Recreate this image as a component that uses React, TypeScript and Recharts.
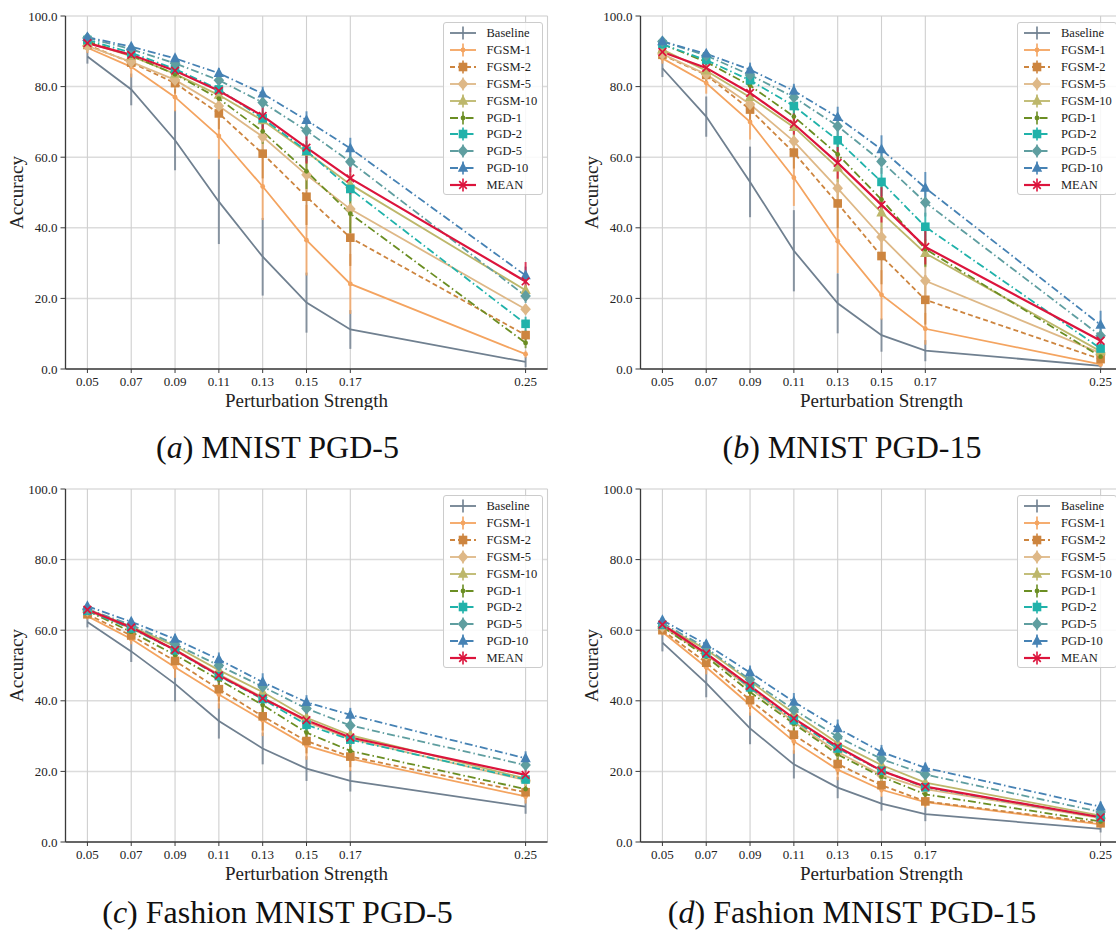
import React from 'react';
import {
  LineChart, Line, XAxis, YAxis, CartesianGrid, ErrorBar, Legend,
} from 'recharts';

/* ───────── Data ───────── */

const EPS = [0.05, 0.07, 0.09, 0.11, 0.13, 0.15, 0.17, 0.25];
const Y_TICKS = [0, 20, 40, 60, 80, 100];
const SERIES_NAMES = ['Baseline', 'FGSM-1', 'FGSM-2', 'FGSM-5', 'FGSM-10', 'PGD-1', 'PGD-2', 'PGD-5', 'PGD-10', 'MEAN'];

// (a) MNIST PGD-5
const MNIST_PGD5_ACC: Record<string, number[]> = {
  'Baseline': [88.5, 79.2, 64.8, 47.4, 31.8, 18.8, 11.2, 2.0],
  'FGSM-1': [91.0, 85.6, 77.0, 66.0, 51.7, 36.5, 24.1, 4.2],
  'FGSM-2': [91.8, 86.8, 81.0, 72.4, 61.0, 48.8, 37.2, 9.6],
  'FGSM-5': [91.5, 87.0, 81.9, 74.5, 65.8, 55.0, 45.3, 16.9],
  'FGSM-10': [92.5, 88.6, 83.6, 77.6, 70.4, 61.5, 52.3, 22.3],
  'PGD-1': [92.8, 88.8, 83.5, 76.6, 67.3, 56.0, 44.0, 7.4],
  'PGD-2': [93.2, 89.6, 85.0, 79.2, 71.0, 61.8, 51.0, 12.8],
  'PGD-5': [93.8, 90.6, 86.6, 81.8, 75.5, 67.5, 58.7, 20.7],
  'PGD-10': [94.0, 91.3, 88.0, 83.8, 78.0, 70.5, 62.5, 26.5],
  'MEAN': [92.3, 89.0, 84.5, 78.8, 71.7, 62.7, 54.0, 24.8],
};
const MNIST_PGD5_ERR: Record<string, number[]> = {
  'Baseline': [2, 4.5, 8.5, 12, 11, 8.5, 5.5, 1.5],
  'FGSM-1': [1.5, 3, 4, 6.5, 9.5, 10, 8.5, 1],
  'FGSM-2': [1, 1.5, 3, 4.5, 7, 8, 8, 1.5],
  'FGSM-5': [1, 1.5, 2.5, 3.5, 4, 4.5, 4, 1.5],
  'FGSM-10': [1, 1, 1.5, 2, 2.5, 3, 3, 1.5],
  'PGD-1': [0.8, 1, 1.5, 2.5, 3.5, 5, 5.5, 1.5],
  'PGD-2': [0.8, 1, 1.5, 2, 2.5, 3, 3.5, 2],
  'PGD-5': [0.5, 1, 1, 1.5, 2, 2.5, 3, 2],
  'PGD-10': [0.5, 1, 1, 1.5, 2, 2.5, 3, 2.5],
  'MEAN': [0.8, 1.2, 2, 3, 4, 4.5, 4.5, 5.5],
};

// (b) MNIST PGD-15
const MNIST_PGD15_ACC: Record<string, number[]> = {
  'Baseline': [85.2, 71.5, 53.0, 33.5, 18.6, 9.6, 5.2, 0.9],
  'FGSM-1': [88.0, 81.0, 70.0, 54.2, 36.2, 21.0, 11.4, 1.3],
  'FGSM-2': [89.0, 83.3, 73.5, 61.3, 46.9, 32.0, 19.6, 2.8],
  'FGSM-5': [89.2, 83.5, 75.0, 64.5, 51.2, 37.4, 25.0, 4.5],
  'FGSM-10': [90.5, 84.5, 77.0, 68.5, 57.0, 44.3, 32.8, 5.0],
  'PGD-1': [92.0, 87.0, 80.3, 71.5, 60.8, 48.0, 34.0, 3.5],
  'PGD-2': [92.0, 87.5, 81.8, 74.5, 64.8, 53.0, 40.3, 5.8],
  'PGD-5': [92.8, 88.8, 83.3, 77.0, 68.8, 58.8, 47.2, 9.4],
  'PGD-10': [92.8, 89.3, 84.8, 78.8, 71.3, 62.2, 51.3, 12.5],
  'MEAN': [89.8, 85.3, 78.2, 69.4, 58.4, 46.5, 34.6, 8.0],
};
const MNIST_PGD15_ERR: Record<string, number[]> = {
  'Baseline': [2.5, 5.7, 10, 11.5, 8.5, 4.7, 3, 0.5],
  'FGSM-1': [1.5, 3, 5, 8, 9, 7, 4.5, 0.5],
  'FGSM-2': [1, 2, 3, 4.5, 7, 8, 7, 1],
  'FGSM-5': [1, 1.5, 2.5, 4, 5, 5.5, 4.5, 1],
  'FGSM-10': [1, 1.5, 2, 3, 4, 4.5, 4, 1],
  'PGD-1': [0.8, 1, 2, 2.5, 3.5, 4.5, 5, 1],
  'PGD-2': [0.8, 1, 1.5, 2.5, 3, 4, 4, 1.5],
  'PGD-5': [0.5, 1, 1.5, 2, 3, 3.5, 4, 2],
  'PGD-10': [0.5, 1, 2, 2, 3, 4, 4.5, 4],
  'MEAN': [0.8, 1.2, 2, 3, 4.5, 5, 5, 2],
};

// (c) Fashion MNIST PGD-5
const FASHION_PGD5_ACC: Record<string, number[]> = {
  'Baseline': [62.3, 54.0, 44.8, 34.3, 26.5, 20.8, 17.3, 10.0],
  'FGSM-1': [64.0, 57.5, 49.5, 41.8, 34.5, 27.3, 23.6, 12.9],
  'FGSM-2': [64.5, 58.5, 51.3, 43.3, 35.6, 28.6, 24.2, 14.1],
  'FGSM-5': [65.5, 60.5, 54.5, 47.5, 41.0, 34.0, 29.2, 17.5],
  'FGSM-10': [66.0, 61.0, 55.5, 48.7, 42.5, 35.2, 30.3, 18.0],
  'PGD-1': [65.5, 59.5, 53.0, 46.0, 38.8, 31.0, 25.8, 15.0],
  'PGD-2': [65.5, 60.5, 54.3, 47.0, 40.5, 33.2, 29.0, 17.7],
  'PGD-5': [66.0, 61.5, 56.0, 50.0, 44.0, 37.8, 33.0, 21.8],
  'PGD-10': [66.8, 62.4, 57.5, 51.7, 45.3, 39.6, 36.0, 23.7],
  'MEAN': [65.8, 60.8, 54.4, 47.2, 40.7, 34.5, 29.6, 19.0],
};
const FASHION_PGD5_ERR: Record<string, number[]> = {
  'Baseline': [1.5, 3, 5, 5, 4.5, 3.5, 3, 2],
  'FGSM-1': [1, 1.5, 3, 4, 4.5, 4, 3.5, 2],
  'FGSM-2': [1, 1.5, 2.5, 3.5, 4, 3.5, 3, 2],
  'FGSM-5': [0.8, 1, 1.5, 2, 2.5, 2.5, 2, 1.5],
  'FGSM-10': [0.8, 1, 1.5, 2, 2, 2, 2, 1.5],
  'PGD-1': [0.8, 1, 1.5, 2, 2.5, 2.5, 2, 1.5],
  'PGD-2': [0.8, 1, 1.5, 2, 2, 2, 2, 1.5],
  'PGD-5': [0.8, 1, 1.5, 2, 2, 2, 2, 1.5],
  'PGD-10': [0.8, 1, 1.5, 2, 2.5, 2, 2, 2],
  'MEAN': [0.8, 1, 1.5, 2, 2, 2, 2, 1.5],
};

// (d) Fashion MNIST PGD-15
const FASHION_PGD15_ACC: Record<string, number[]> = {
  'Baseline': [56.5, 45.0, 32.2, 22.0, 15.4, 10.9, 7.9, 3.7],
  'FGSM-1': [59.5, 49.5, 38.8, 28.5, 20.5, 14.8, 11.3, 5.0],
  'FGSM-2': [60.0, 50.8, 40.2, 30.4, 22.1, 16.1, 11.5, 5.3],
  'FGSM-5': [61.0, 53.0, 43.5, 34.0, 25.5, 19.0, 15.0, 6.8],
  'FGSM-10': [61.5, 54.5, 45.5, 36.5, 28.0, 21.8, 16.8, 7.5],
  'PGD-1': [61.0, 52.5, 42.5, 33.5, 24.8, 18.5, 13.5, 5.8],
  'PGD-2': [61.5, 53.3, 43.8, 34.5, 26.5, 20.2, 15.5, 7.0],
  'PGD-5': [62.0, 55.0, 46.0, 37.5, 29.8, 23.5, 19.1, 8.5],
  'PGD-10': [62.8, 56.0, 48.0, 39.7, 32.2, 25.5, 21.0, 10.0],
  'MEAN': [61.6, 53.4, 44.2, 35.0, 27.0, 20.2, 15.7, 7.0],
};
const FASHION_PGD15_ERR: Record<string, number[]> = {
  'Baseline': [2.5, 4, 4.5, 4, 3, 2, 2, 1],
  'FGSM-1': [1, 2, 3, 3.5, 3, 2, 1.5, 1],
  'FGSM-2': [1, 2, 2.5, 3, 3, 2, 1.5, 1],
  'FGSM-5': [0.8, 1.2, 1.8, 2, 2, 1.5, 1.2, 0.8],
  'FGSM-10': [0.8, 1.2, 1.8, 2, 2, 1.5, 1.2, 0.8],
  'PGD-1': [0.8, 1.2, 1.8, 2, 2, 1.5, 1.2, 0.8],
  'PGD-2': [0.8, 1.2, 1.8, 2, 2, 1.5, 1.2, 0.8],
  'PGD-5': [0.8, 1.2, 1.8, 2, 2, 1.5, 1.2, 1],
  'PGD-10': [0.8, 1.2, 2, 2.5, 2.5, 2, 1.5, 1.5],
  'MEAN': [0.8, 1.2, 1.5, 1.5, 1.5, 1.2, 1, 1],
};

/* ───────── Theme ───────── */

const FONT = '"Liberation Serif", "DejaVu Serif", serif';
const TEXT = '#222222';
const AXIS = '#3a3a3a';

type Shape = 'none' | 'point' | 'square' | 'diamond' | 'triangle' | 'x';

const STYLES: Record<string, { key: string; color: string; dash?: string; shape: Shape; width: number }> = {
  'Baseline': { key: 'baseline', color: '#708090', shape: 'none', width: 1.8 },
  'FGSM-1': { key: 'fgsm1', color: '#F4A460', shape: 'point', width: 1.8 },
  'FGSM-2': { key: 'fgsm2', color: '#CD853F', dash: '5 3', shape: 'square', width: 1.8 },
  'FGSM-5': { key: 'fgsm5', color: '#DEB887', shape: 'diamond', width: 1.8 },
  'FGSM-10': { key: 'fgsm10', color: '#BDB76B', shape: 'triangle', width: 1.8 },
  'PGD-1': { key: 'pgd1', color: '#6B8E23', dash: '8 3 1.5 3', shape: 'point', width: 1.8 },
  'PGD-2': { key: 'pgd2', color: '#20B2AA', dash: '8 3 1.5 3', shape: 'square', width: 1.8 },
  'PGD-5': { key: 'pgd5', color: '#5F9EA0', dash: '8 3 1.5 3', shape: 'diamond', width: 1.8 },
  'PGD-10': { key: 'pgd10', color: '#4682B4', dash: '8 3 1.5 3', shape: 'triangle', width: 1.8 },
  'MEAN': { key: 'mean', color: '#DC143C', shape: 'x', width: 2.2 },
};

/* ───────── Markers ───────── */

function Marker({ cx, cy, shape, color }: { cx: number; cy: number; shape: Shape; color: string }) {
  switch (shape) {
    case 'point':
      return <circle cx={cx} cy={cy} r={2.4} fill={color} />;
    case 'square':
      return <rect x={cx - 4.3} y={cy - 4.3} width={8.6} height={8.6} fill={color} />;
    case 'diamond':
      return <polygon points={`${cx},${cy - 6} ${cx + 5.3} ${cy} ${cx},${cy + 6} ${cx - 5.3},${cy}`} fill={color} />;
    case 'triangle':
      return <polygon points={`${cx},${cy - 6} ${cx + 5.2},${cy + 3.8} ${cx - 5.2},${cy + 3.8}`} fill={color} />;
    case 'x':
      return (
        <g stroke={color} strokeWidth={1.7}>
          <line x1={cx - 3.8} y1={cy - 3.8} x2={cx + 3.8} y2={cy + 3.8} />
          <line x1={cx - 3.8} y1={cy + 3.8} x2={cx + 3.8} y2={cy - 3.8} />
        </g>
      );
    default:
      return <g />;
  }
}

/* ───────── Legend ───────── */

function LegendBox() {
  return (
    <div style={{
      width: 100, height: 173, boxSizing: 'border-box', border: '1px solid #cccccc',
      borderRadius: 3, background: 'rgba(255,255,255,0.85)', position: 'relative', fontFamily: FONT,
    }}>
      {SERIES_NAMES.map((name, i) => {
        const s = STYLES[name];
        return (
          <div key={name} style={{ position: 'absolute', left: 0, top: 2 + i * 16.9, width: 100, height: 16 }}>
            <svg width={28} height={16} style={{ position: 'absolute', left: 5, top: 0 }}>
              <line x1={1} x2={27} y1={8} y2={8} stroke={s.color} strokeWidth={s.width} strokeDasharray={s.dash} />
              <line x1={14} x2={14} y1={1.5} y2={14.5} stroke={s.color} strokeWidth={1.6} />
              <Marker cx={14} cy={8} shape={s.shape} color={s.color} />
            </svg>
            <span style={{ position: 'absolute', left: 43, top: 0, lineHeight: '16px', fontSize: 12.5, color: TEXT, whiteSpace: 'nowrap' }}>
              {name}
            </span>
          </div>
        );
      })}
    </div>
  );
}

/* ───────── Panel ───────── */

const CHART_W = 560;
const CHART_H = 410;
const PLOT_LEFT = 65.5;
const PLOT_RIGHT = 547.5;

function Panel({ acc, err }: { acc: Record<string, number[]>; err: Record<string, number[]> }) {
  const rows = EPS.map((eps, i) => {
    const row: Record<string, number> = { eps };
    SERIES_NAMES.forEach(name => {
      row[STYLES[name].key] = acc[name][i];
      row[STYLES[name].key + 'Err'] = err[name][i];
    });
    return row;
  });

  return (
    <LineChart width={CHART_W} height={CHART_H} data={rows}
      margin={{ top: 16, right: CHART_W - PLOT_RIGHT, bottom: 0, left: 0 }}>
      <CartesianGrid vertical={false} stroke="#dcdcdc" strokeWidth={1.5} />
      <CartesianGrid horizontal={false} stroke="#cfcfcf" strokeWidth={1.1} />
      <XAxis
        type="number" dataKey="eps" domain={[0.04, 0.26]} ticks={EPS} interval={0} allowDataOverflow
        tickFormatter={(v: number) => v.toFixed(2)} height={41} tickSize={4} tickMargin={4}
        axisLine={{ stroke: AXIS, strokeWidth: 1.3 }} tickLine={{ stroke: AXIS, strokeWidth: 1 }}
        tick={{ fontSize: 13, fill: TEXT, fontFamily: FONT }}
        label={{ value: 'Perturbation Strength', position: 'insideBottom', offset: 3, fontSize: 19, fill: TEXT, fontFamily: FONT }}
      />
      <YAxis
        type="number" domain={[0, 100]} ticks={Y_TICKS} interval={0} allowDataOverflow
        tickFormatter={(v: number) => v.toFixed(1)} width={PLOT_LEFT} tickSize={5} tickMargin={3}
        axisLine={{ stroke: AXIS, strokeWidth: 1.3 }} tickLine={{ stroke: AXIS, strokeWidth: 1 }}
        tick={{ fontSize: 13, fill: TEXT, fontFamily: FONT }}
        label={{
          content: (p: any) => {
            const vb = p.viewBox;
            const cx = vb.x + 16;
            const cy = vb.y + vb.height / 2;
            return (
              <text x={cx} y={cy} transform={`rotate(-90 ${cx} ${cy})`} textAnchor="middle"
                dominantBaseline="central" fontSize={19} fill={TEXT} fontFamily={FONT}>Accuracy</text>
            );
          },
        }}
      />
      {SERIES_NAMES.map(name => {
        const s = STYLES[name];
        return (
          <Line
            key={s.key}
            type="linear"
            dataKey={s.key}
            name={name}
            stroke={s.color}
            strokeWidth={s.width}
            strokeDasharray={s.dash}
            dot={s.shape === 'none' ? false : (p: any) => (
              <Marker key={`${s.key}-${p.index}`} cx={p.cx} cy={p.cy} shape={s.shape} color={s.color} />
            )}
            activeDot={false}
            isAnimationActive={false}
          >
            <ErrorBar dataKey={s.key + 'Err'} direction="y" width={0} stroke={s.color}
              strokeWidth={2} strokeOpacity={0.8} isAnimationActive={false} />
          </Line>
        );
      })}
      <Legend
        layout="vertical" align="center" verticalAlign="middle"
        wrapperStyle={{ left: PLOT_RIGHT - 105, top: 22, width: 100, height: 173 }}
        content={() => <LegendBox />}
      />
    </LineChart>
  );
}

/* ───────── Layout ───────── */

const COL_X = [0, 574.5];
const ROW_Y = [0, 473];
const CAPTION_X = [277.5, 852];
const CAPTION_Y = [458, 923];

const PANELS = [
  { id: 'a', title: 'MNIST PGD-5', acc: MNIST_PGD5_ACC, err: MNIST_PGD5_ERR, col: 0, row: 0 },
  { id: 'b', title: 'MNIST PGD-15', acc: MNIST_PGD15_ACC, err: MNIST_PGD15_ERR, col: 1, row: 0 },
  { id: 'c', title: 'Fashion MNIST PGD-5', acc: FASHION_PGD5_ACC, err: FASHION_PGD5_ERR, col: 0, row: 1 },
  { id: 'd', title: 'Fashion MNIST PGD-15', acc: FASHION_PGD15_ACC, err: FASHION_PGD15_ERR, col: 1, row: 1 },
];

export default function App() {
  return (
    <div style={{
      position: 'absolute', left: 0, top: 0, width: 1116, height: 938,
      overflow: 'hidden', background: '#ffffff', fontFamily: FONT,
    }}>
      {PANELS.map(p => (
        <div key={p.id} style={{ position: 'absolute', left: COL_X[p.col], top: ROW_Y[p.row] }}>
          <Panel acc={p.acc} err={p.err} />
        </div>
      ))}
      <svg width={1116} height={938} style={{ position: 'absolute', left: 0, top: 0, pointerEvents: 'none' }}>
        {PANELS.map(p => (
          <text key={p.id} x={CAPTION_X[p.col]} y={CAPTION_Y[p.row]} textAnchor="middle"
            fontSize={32} fill="#111111" fontFamily={FONT}>
            (<tspan fontStyle="italic">{p.id}</tspan>) {p.title}
          </text>
        ))}
      </svg>
    </div>
  );
}
